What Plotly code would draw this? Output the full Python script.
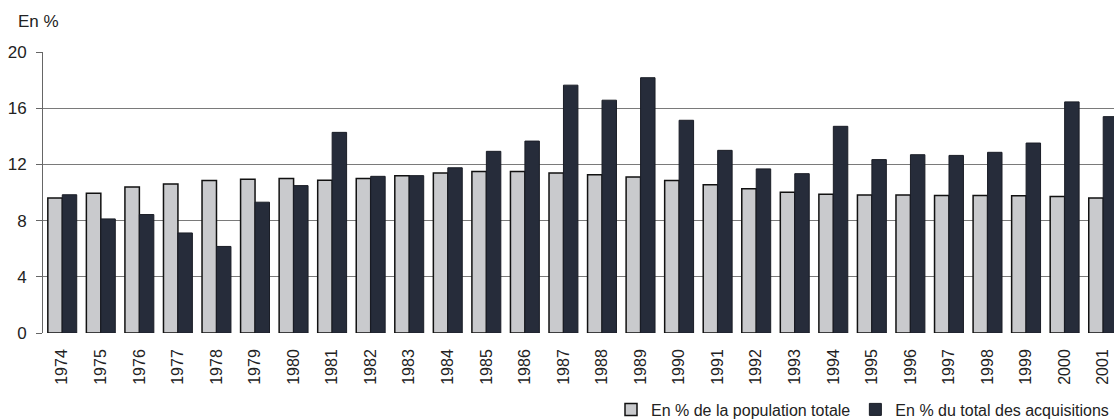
import plotly.graph_objects as go

years = [str(y) for y in range(1974, 2002)]
pop_totale = [9.6, 9.95, 10.4, 10.6, 10.85, 10.95, 11.0, 10.87, 11.0, 11.2,
              11.38, 11.5, 11.5, 11.38, 11.26, 11.1, 10.86, 10.55, 10.27, 10.02,
              9.88, 9.83, 9.83, 9.79, 9.79, 9.76, 9.71, 9.6]
acquisitions = [9.84, 8.12, 8.43, 7.12, 6.16, 9.31, 10.49, 14.28, 11.15, 11.2,
                11.76, 12.93, 13.66, 17.64, 16.57, 18.17, 15.14, 13.0, 11.68, 11.34,
                14.71, 12.34, 12.69, 12.64, 12.86, 13.52, 16.45, 15.4]
y_ticks = [0, 4, 8, 12, 16, 20]

fig = go.Figure()
fig.add_trace(go.Bar(x=years, y=pop_totale, name="En % de la population totale",
                     marker=dict(color="#c9cacd", line=dict(color="#111111", width=1.5))))
fig.add_trace(go.Bar(x=years, y=acquisitions, name="En % du total des acquisitions",
                     marker=dict(color="#262c3a", line=dict(color="#1a1d26", width=1))))

fig.update_layout(
    width=1114, height=420,
    margin=dict(l=43, r=0, t=52, b=87, autoexpand=False),
    paper_bgcolor="white", plot_bgcolor="white",
    barmode="group", bargap=0.25, bargroupgap=0,
    font=dict(family="Liberation Sans, Arial, sans-serif", color="#222222"),
    showlegend=True,
    legend=dict(orientation="h", x=1.0, xanchor="right", y=0.025, yanchor="middle",
                xref="paper", yref="container", font=dict(size=16),
                itemwidth=30, tracegroupgap=0, bgcolor="rgba(0,0,0,0)"),
    annotations=[dict(text="En %", xref="paper", yref="paper", x=-0.0252, y=1.107,
                      xanchor="left", yanchor="middle", showarrow=False,
                      font=dict(size=17, color="#222222"))],
)
fig.update_xaxes(type="category", range=[-0.5, 27.28], tickangle=-90,
                 tickfont=dict(size=16), showgrid=False, showline=False, ticks="",
                 ticklabelstandoff=12, ticklabeloverflow="allow", automargin=False)
fig.update_yaxes(range=[0, 20], tickvals=y_ticks, tickfont=dict(size=17),
                 showgrid=True, gridcolor="#7a7a7a", gridwidth=1,
                 showline=True, linecolor="#666666", linewidth=1,
                 ticks="outside", ticklen=6, tickcolor="#666666",
                 ticklabelstandoff=6, zeroline=False, automargin=False)

fig.write_html("out.html", config={"displayModeBar": False},
               post_script="document.body.style.margin='0';")
